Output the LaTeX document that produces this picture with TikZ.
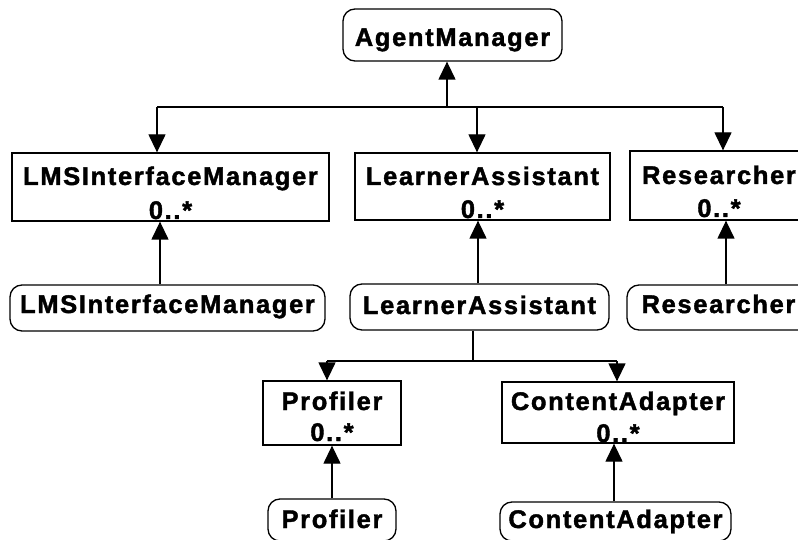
\documentclass[tikz,border=0pt]{standalone}
\usepackage{fontspec}
\setmainfont{Liberation Sans}[LetterSpace=6.5, BoldFeatures={FakeBold=1.6}]
\usetikzlibrary{arrows.meta}
\begin{document}
\begin{tikzpicture}[x=1pt,y=-1pt,
  lw/.style={line width=1.3pt},
  sbox/.style={draw,lw,rectangle,inner sep=0pt,fill=none},
  rbox/.style={sbox,rounded corners=12pt},
  txt/.style={anchor=base,inner sep=0pt,font=\fontsize{25.5pt}{30pt}\selectfont\bfseries},
  arr/.style={lw,-{Triangle[length=18pt,width=17pt]}},
  ln/.style={lw}]
\useasboundingbox (0,0) rectangle (798,540);
\fill[white] (0,0) rectangle (798,540);
\clip (0,0) rectangle (798,540);
% boxes
\node[rbox,minimum width=219pt,minimum height=52pt] (am) at (452.5,35) {};
\node[sbox,minimum width=317pt,minimum height=68pt] (lmsC) at (170.5,187) {};
\node[sbox,minimum width=255pt,minimum height=67pt] (laC) at (482.5,186.5) {};
\node[sbox,minimum width=178pt,minimum height=69pt] (reC) at (719,185.5) {};
\node[rbox,minimum width=315pt,minimum height=46pt] (lmsR) at (167.5,308) {};
\node[rbox,minimum width=259pt,minimum height=46pt] (laR) at (479.5,307) {};
\node[rbox,minimum width=183pt,minimum height=45pt] (reR) at (718.5,307.5) {};
\node[sbox,minimum width=138pt,minimum height=64pt] (prC) at (332,413) {};
\node[sbox,minimum width=232pt,minimum height=61pt] (caC) at (618,412.5) {};
\node[rbox,minimum width=128pt,minimum height=42pt] (prR) at (332,520) {};
\node[rbox,minimum width=231pt,minimum height=39pt] (caR) at (615.5,521.5) {};
% texts
\node[txt] (amt) at (452.5,46) {AgentManager};
\node[txt] (lmsCt) at (170.5,185) {LMSInterfaceManager};
\node[txt] (lmsCm) at (170.5,219) {0..*};
\node[txt] (laCt) at (482.5,185) {LearnerAssistant};
\node[txt] (laCm) at (482.5,218) {0..*};
\node[txt] (reCt) at (719,184) {Researcher};
\node[txt] (reCm) at (719,217) {0..*};
\node[txt] (lmsRt) at (167.5,313) {LMSInterfaceManager};
\node[txt] (laRt) at (479.5,314) {LearnerAssistant};
\node[txt] (reRt) at (718.5,313) {Researcher};
\node[txt] (prCt) at (332,410) {Profiler};
\node[txt] (prCm) at (332,441) {0..*};
\node[txt] (caCt) at (618,410) {ContentAdapter};
\node[txt] (caCm) at (618,442) {0..*};
\node[txt] (prRt) at (332,528) {Profiler};
\node[txt] (caRt) at (615.5,528) {ContentAdapter};
% top bus
\coordinate (bL) at (157,107);
\coordinate (bA) at (447,107);
\coordinate (bM) at (477,107);
\coordinate (bR) at (723,107);
\draw[ln] (bL) -- (bR);
\draw[arr] (bA) -- (am.south -| bA);
\draw[arr] (bL) -- (lmsC.north -| bL);
\draw[arr] (bM) -- (laC.north -| bM);
\draw[arr] (bR) -- (reC.north -| bR);
% up arrows
\coordinate (u1) at (160,0);
\coordinate (u2) at (478,0);
\coordinate (u3) at (726,0);
\draw[arr] (lmsR.north -| u1) -- (lmsC.south -| u1);
\draw[arr] (laR.north -| u2) -- (laC.south -| u2);
\draw[arr] (reR.north -| u3) -- (reC.south -| u3);
% lower bus
\coordinate (lM) at (473,361);
\coordinate (lL) at (327,361);
\coordinate (lR) at (617,361);
\draw[ln] (laR.south -| lM) -- (lM);
\draw[ln] (lL) -- (lR);
\draw[arr] (lL) -- (prC.north -| lL);
\draw[arr] (lR) -- (caC.north -| lR);
\coordinate (u4) at (332,0);
\coordinate (u5) at (614,0);
\draw[arr] (prR.north -| u4) -- (prC.south -| u4);
\draw[arr] (caR.north -| u5) -- (caC.south -| u5);
\end{tikzpicture}
\end{document}
